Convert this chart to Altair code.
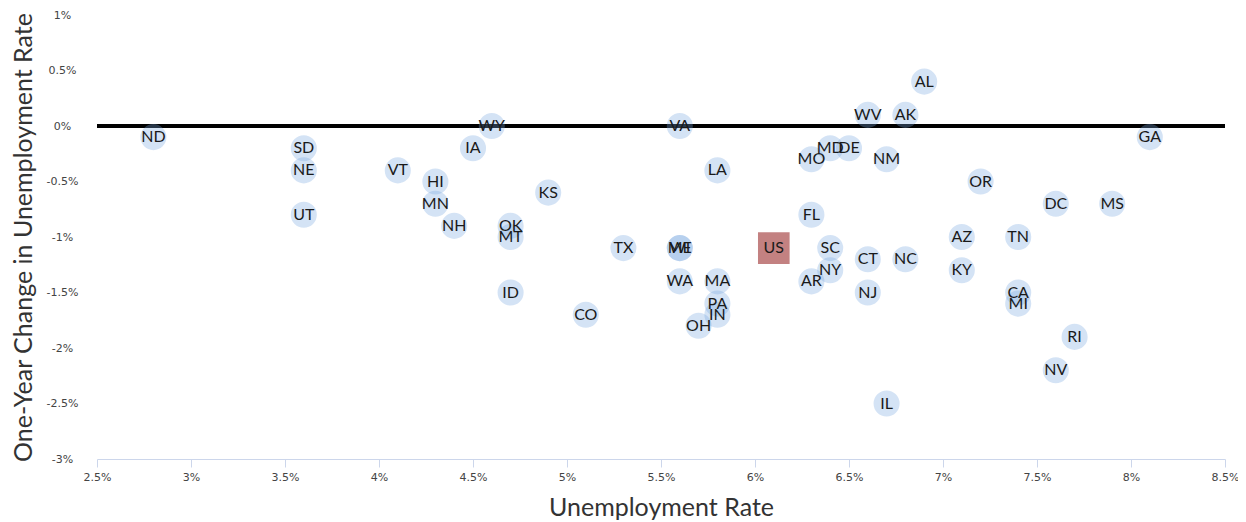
import altair as alt
import pandas as pd

# ---- data ----
states = ["ND", "SD", "NE", "UT", "VT", "HI", "MN", "NH", "IA", "WY",
          "OK", "MT", "KS", "ID", "CO", "TX", "ME", "WI", "WA", "VA",
          "LA", "MA", "PA", "IN", "OH", "MO", "MD", "DE", "WV", "AK",
          "AL", "NM", "FL", "SC", "NY", "AR", "CT", "NJ", "NC", "IL",
          "OR", "AZ", "KY", "TN", "CA", "MI", "DC", "MS", "GA", "RI", "NV"]
unemployment_rate = [2.8, 3.6, 3.6, 3.6, 4.1, 4.3, 4.3, 4.4, 4.5, 4.6,
                     4.7, 4.7, 4.9, 4.7, 5.1, 5.3, 5.6, 5.6, 5.6, 5.6,
                     5.8, 5.8, 5.8, 5.8, 5.7, 6.3, 6.4, 6.5, 6.6, 6.8,
                     6.9, 6.7, 6.3, 6.4, 6.4, 6.3, 6.6, 6.6, 6.8, 6.7,
                     7.2, 7.1, 7.1, 7.4, 7.4, 7.4, 7.6, 7.9, 8.1, 7.7, 7.6]
one_year_change = [-0.1, -0.2, -0.4, -0.8, -0.4, -0.5, -0.7, -0.9, -0.2, 0.0,
                   -0.9, -1.0, -0.6, -1.5, -1.7, -1.1, -1.1, -1.1, -1.4, 0.0,
                   -0.4, -1.4, -1.6, -1.7, -1.8, -0.3, -0.2, -0.2, 0.1, 0.1,
                   0.4, -0.3, -0.8, -1.1, -1.3, -1.4, -1.2, -1.5, -1.2, -2.5,
                   -0.5, -1.0, -1.3, -1.0, -1.5, -1.6, -0.7, -0.7, -0.1, -1.9, -2.2]

us_label = ["US"]
us_rate = [6.1]
us_change = [-1.1]

x_ticks = [2.5, 3, 3.5, 4, 4.5, 5, 5.5, 6, 6.5, 7, 7.5, 8, 8.5]
y_ticks = [1, 0.5, 0, -0.5, -1, -1.5, -2, -2.5, -3]

states_df = pd.DataFrame({"state": states, "rate": unemployment_rate, "change": one_year_change})
us_df = pd.DataFrame({"state": us_label, "rate": us_rate, "change": us_change})
zero_df = pd.DataFrame({"rate": [x_ticks[0]], "rate2": [x_ticks[-1]], "change": [0]})

x_scale = alt.Scale(domain=[x_ticks[0], x_ticks[-1]], nice=False, zero=False)
y_scale = alt.Scale(domain=[y_ticks[-1], y_ticks[0]], nice=False, zero=False)

x_axis = alt.Axis(
    title="Unemployment Rate", values=x_ticks, labelExpr="datum.value + '%'",
    grid=False, domainColor="#ccd6eb", tickColor="#ccd6eb", tickSize=8,
    labelPadding=4, labelFont="DejaVu Sans", labelFontSize=11, labelColor="#444444",
    titleFont="Lato", titleFontSize=25, titleFontWeight="normal", titleColor="#333333",
    titleY=48, titleBaseline="middle", labelFlush=False, labelOverlap=False,
)
y_axis = alt.Axis(
    title="One-Year Change in Unemployment Rate", values=y_ticks,
    labelExpr="datum.value + '%'", grid=False, domain=False, ticks=False, tickSize=0,
    labelAlign="center", labelPadding=35, labelFont="DejaVu Sans", labelFontSize=11,
    labelColor="#444444", titleFont="Lato", titleFontSize=25, titleFontWeight="normal",
    titleColor="#333333", titleAngle=270, titleX=-74, titleY=222,
    titleAlign="center", titleBaseline="middle", labelFlush=False, labelOverlap=False,
)

X = alt.X("rate:Q", scale=x_scale, axis=x_axis)
Y = alt.Y("change:Q", scale=y_scale, axis=y_axis)

zero_line = alt.Chart(zero_df).mark_rule(color="#000000", strokeWidth=4).encode(
    x=X, x2="rate2:Q", y=Y
)

circles = alt.Chart(states_df).mark_point(
    shape="circle", filled=True, size=680, color="#7aa9df", opacity=0.32
).encode(x=X, y=Y)

us_square = alt.Chart(us_df).mark_point(
    shape="square", filled=True, size=1000, color="#c07a7a", opacity=0.95
).encode(x=X, y=Y)

labels = alt.Chart(states_df).mark_text(
    font="Lato", fontSize=16, color="#1a1a1a", baseline="middle", align="center"
).encode(x=X, y=Y, text="state:N")

us_text = alt.Chart(us_df).mark_text(
    font="Lato", fontSize=16, color="#1a1a1a", baseline="middle", align="center"
).encode(x=X, y=Y, text="state:N")

chart = alt.layer(zero_line, circles, us_square, labels, us_text).properties(
    width=1128, height=444,
    autosize=alt.AutoSizeParams(type="none"),
    padding={"left": 89, "top": 7, "right": 13, "bottom": 63},
    background="white",
).configure_view(stroke=None)

chart.save("out.html", embed_options={"renderer": "svg", "actions": False})
